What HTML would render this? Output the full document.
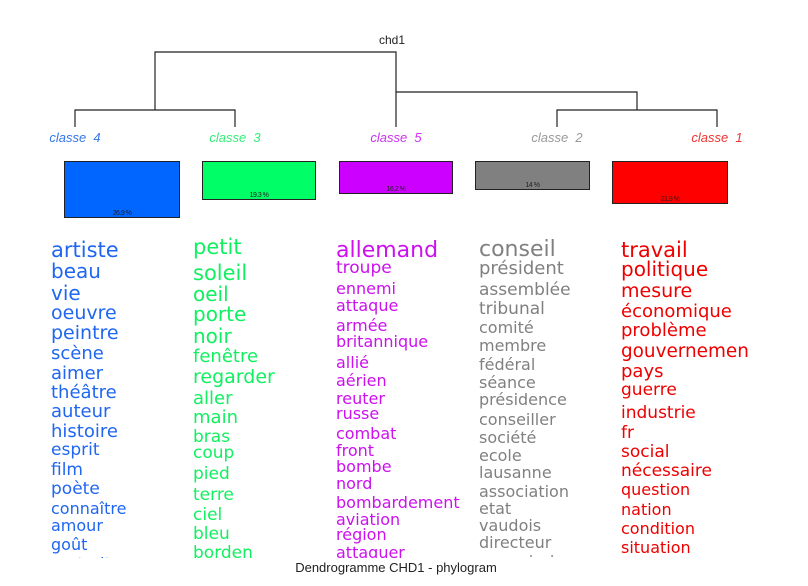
<!DOCTYPE html>
<html><head><meta charset="utf-8"><style>
html,body{margin:0;padding:0;background:#fff;width:808px;height:586px;overflow:hidden}
.clip{position:absolute;left:0;top:0;width:808px;height:558px;overflow:hidden}
.w{position:absolute;white-space:nowrap;font-family:"DejaVu Sans",sans-serif;line-height:1;top:calc(var(--c)*1px - var(--s)*0.44px);font-size:calc(var(--s)*1px)}
.c1 .w{left:51px;color:#1f66f0}
.c2 .w{left:193px;color:#11f060}
.c3 .w{left:336px;color:#cc11ee}
.c4 .w{left:479px;color:#808080}
.c5 .w{left:621px;color:#ee0000}
.lbl{position:absolute;font-family:"Liberation Sans",sans-serif;font-style:italic;font-size:13px;top:130px;transform:translateX(-50%)}
.box{position:absolute;border:1px solid #222;box-sizing:border-box}
.pct{position:absolute;bottom:0;width:100%;text-align:center;font-family:"Liberation Sans",sans-serif;font-size:7px;color:#222;letter-spacing:-0.5px}
</style></head><body>
<svg width="808" height="586" style="position:absolute;left:0;top:0">
<g stroke="#222" stroke-width="1.2" fill="none">
<path d="M155 110 V52 H396 V92"/>
<path d="M75 127 V110 H235 V127"/>
<path d="M396 127 V92 H637 V110"/>
<path d="M557 127 V110 H717 V127"/>
</g>
<text x="392" y="44" font-family="Liberation Sans" font-size="12" fill="#222" text-anchor="middle">chd1</text>
</svg>
<div class="lbl" style="left:75px;color:#3377ee">classe&nbsp; 4</div>
<div class="lbl" style="left:235px;color:#33ee77">classe&nbsp; 3</div>
<div class="lbl" style="left:396px;color:#cc33ee">classe&nbsp; 5</div>
<div class="lbl" style="left:557px;color:#999">classe&nbsp; 2</div>
<div class="lbl" style="left:717px;color:#ee3333">classe&nbsp; 1</div>
<div class="box" style="left:64px;top:161px;width:116px;height:57px;background:#0066ff"><div class="pct">26.9 %</div></div>
<div class="box" style="left:202px;top:161px;width:114px;height:39px;background:#00ff66"><div class="pct">19.3 %</div></div>
<div class="box" style="left:339px;top:161px;width:114px;height:33px;background:#cc00ff"><div class="pct">16.2 %</div></div>
<div class="box" style="left:475px;top:161px;width:115px;height:29px;background:#808080"><div class="pct">14 %</div></div>
<div class="box" style="left:612px;top:161px;width:116px;height:43px;background:#ff0000"><div class="pct">21.8 %</div></div>
<div class="clip">
<div class="c1">
<div class="w" style="--c:249;--s:21">artiste</div>
<div class="w" style="--c:270;--s:20">beau</div>
<div class="w" style="--c:292;--s:20">vie</div>
<div class="w" style="--c:312;--s:19">oeuvre</div>
<div class="w" style="--c:332;--s:19">peintre</div>
<div class="w" style="--c:353;--s:18">scène</div>
<div class="w" style="--c:373;--s:18">aimer</div>
<div class="w" style="--c:392;--s:18">théâtre</div>
<div class="w" style="--c:411;--s:18">auteur</div>
<div class="w" style="--c:431;--s:18">histoire</div>
<div class="w" style="--c:449;--s:17">esprit</div>
<div class="w" style="--c:469;--s:17">film</div>
<div class="w" style="--c:488;--s:17">poète</div>
<div class="w" style="--c:508;--s:16">connaître</div>
<div class="w" style="--c:525;--s:16">amour</div>
<div class="w" style="--c:544;--s:16">goût</div>
<div class="w" style="--c:563;--s:16">portrait</div>
</div>
<div class="c2">
<div class="w" style="--c:246;--s:21">petit</div>
<div class="w" style="--c:272;--s:21">soleil</div>
<div class="w" style="--c:293;--s:20">oeil</div>
<div class="w" style="--c:313;--s:20">porte</div>
<div class="w" style="--c:335;--s:20">noir</div>
<div class="w" style="--c:356;--s:18">fenêtre</div>
<div class="w" style="--c:376;--s:19">regarder</div>
<div class="w" style="--c:398;--s:18">aller</div>
<div class="w" style="--c:417;--s:18">main</div>
<div class="w" style="--c:436;--s:17">bras</div>
<div class="w" style="--c:452;--s:17">coup</div>
<div class="w" style="--c:473;--s:17">pied</div>
<div class="w" style="--c:494;--s:17">terre</div>
<div class="w" style="--c:514;--s:17">ciel</div>
<div class="w" style="--c:533;--s:17">bleu</div>
<div class="w" style="--c:552;--s:17">borden</div>
</div>
<div class="c3">
<div class="w" style="--c:250;--s:22">allemand</div>
<div class="w" style="--c:267;--s:17">troupe</div>
<div class="w" style="--c:288;--s:16">ennemi</div>
<div class="w" style="--c:305;--s:16">attaque</div>
<div class="w" style="--c:325;--s:16">armée</div>
<div class="w" style="--c:341;--s:16">britannique</div>
<div class="w" style="--c:362;--s:16">allié</div>
<div class="w" style="--c:380;--s:16">aérien</div>
<div class="w" style="--c:398;--s:16">reuter</div>
<div class="w" style="--c:413;--s:16">russe</div>
<div class="w" style="--c:433;--s:16">combat</div>
<div class="w" style="--c:450;--s:16">front</div>
<div class="w" style="--c:466;--s:16">bombe</div>
<div class="w" style="--c:483;--s:16">nord</div>
<div class="w" style="--c:502;--s:16">bombardement</div>
<div class="w" style="--c:519;--s:16">aviation</div>
<div class="w" style="--c:534;--s:16">région</div>
<div class="w" style="--c:552;--s:16">attaquer</div>
</div>
<div class="c4">
<div class="w" style="--c:249;--s:22">conseil</div>
<div class="w" style="--c:268;--s:18">président</div>
<div class="w" style="--c:289;--s:17">assemblée</div>
<div class="w" style="--c:308;--s:17">tribunal</div>
<div class="w" style="--c:327;--s:16">comité</div>
<div class="w" style="--c:345;--s:16">membre</div>
<div class="w" style="--c:364;--s:16">fédéral</div>
<div class="w" style="--c:382;--s:16">séance</div>
<div class="w" style="--c:399;--s:16">présidence</div>
<div class="w" style="--c:419;--s:16">conseiller</div>
<div class="w" style="--c:437;--s:16">société</div>
<div class="w" style="--c:455;--s:16">ecole</div>
<div class="w" style="--c:472;--s:16">lausanne</div>
<div class="w" style="--c:491;--s:16">association</div>
<div class="w" style="--c:508;--s:16">etat</div>
<div class="w" style="--c:525;--s:16">vaudois</div>
<div class="w" style="--c:542;--s:16">directeur</div>
<div class="w" style="--c:561;--s:16">commission</div>
</div>
<div class="c5">
<div class="w" style="--c:249;--s:21">travail</div>
<div class="w" style="--c:268;--s:20">politique</div>
<div class="w" style="--c:290;--s:19">mesure</div>
<div class="w" style="--c:311;--s:18">économique</div>
<div class="w" style="--c:330;--s:18">problème</div>
<div class="w" style="--c:351;--s:18.4">gouvernemen</div>
<div class="w" style="--c:371;--s:18">pays</div>
<div class="w" style="--c:389;--s:17">guerre</div>
<div class="w" style="--c:412;--s:17">industrie</div>
<div class="w" style="--c:432;--s:17">fr</div>
<div class="w" style="--c:451;--s:17">social</div>
<div class="w" style="--c:470;--s:17">nécessaire</div>
<div class="w" style="--c:489;--s:16">question</div>
<div class="w" style="--c:509;--s:16">nation</div>
<div class="w" style="--c:528;--s:16">condition</div>
<div class="w" style="--c:547;--s:16">situation</div>
</div>
</div>
<div style="position:absolute;left:0;width:792px;text-align:center;top:560px;font-family:'Liberation Sans',sans-serif;font-size:13px;color:#222">Dendrogramme CHD1 - phylogram</div>
</body></html>
